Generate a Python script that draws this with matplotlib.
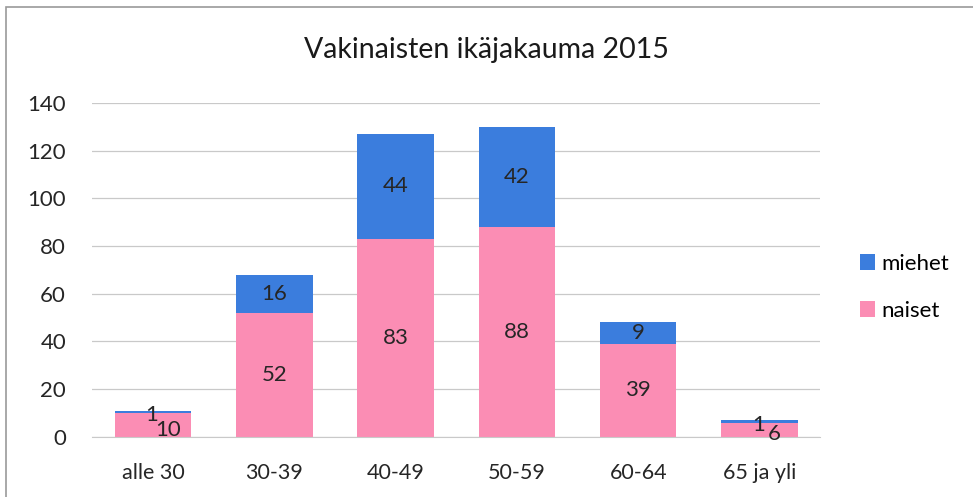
import matplotlib.pyplot as plt
import numpy as np

# data
categories = ["alle 30", "30-39", "40-49", "50-59", "60-64", "65 ja yli"]
naiset = [10, 52, 83, 88, 39, 6]
miehet = [1, 16, 44, 42, 9, 1]

blue = "#3b7ddd"
pink = "#fb8db4"
txt = "#262626"

plt.rcParams['font.family'] = ['Lato', 'DejaVu Sans']

fig = plt.figure(figsize=(9.73, 4.97), dpi=100)
ax = fig.add_axes([0.095, 0.121, 0.748, 0.672])

x = np.arange(len(categories))
w = 0.63
b1 = ax.bar(x, naiset, w, color=pink, label="naiset", zorder=2)
b2 = ax.bar(x, miehet, w, bottom=naiset, color=blue, label="miehet", zorder=2)

# value labels, centred in each segment (small ones nudged like the original)
for i in range(len(categories)):
    n, m = naiset[i], miehet[i]
    if n + m < 20:
        ax.text(x[i] - 0.01, n + m / 2 - 1.5, str(m), ha="center", va="center",
                fontsize=16, color=txt, zorder=3)
        ax.text(x[i] + 0.12, n / 2 - 2.0, str(n), ha="center", va="center",
                fontsize=16, color=txt, zorder=3)
    else:
        ax.text(x[i], n / 2, str(n), ha="center", va="center",
                fontsize=16, color=txt, zorder=3)
        ax.text(x[i], n + m / 2, str(m), ha="center", va="center",
                fontsize=16, color=txt, zorder=3)

ax.set_xlim(-0.5, len(categories) - 0.5)
ax.set_ylim(0, 140)
ax.set_yticks(np.arange(0, 141, 20))
ax.set_xticks(x)
ax.set_xticklabels(categories, fontsize=15.5, color=txt)
ax.tick_params(axis="y", labelsize=16, length=0, pad=19, labelcolor=txt)
ax.tick_params(axis="x", length=0, pad=19)
ax.yaxis.grid(True, color="#c9c9c9", lw=0.9, zorder=1)
for s in ["top", "right", "left"]:
    ax.spines[s].set_visible(False)
ax.spines["bottom"].set_color("#c9c9c9")

fig.text(0.5, 0.9, "Vakinaisten ikäjakauma 2015", ha="center", va="center",
         fontsize=20.5, color="#1a1a1a")

ax.legend(handles=[b2, b1], labels=["miehet", "naiset"], loc="center left",
          bbox_to_anchor=(1.054, 0.448), frameon=False, fontsize=16,
          handlelength=0.7, handleheight=0.7, handletextpad=0.3,
          labelspacing=1.2, borderpad=0, borderaxespad=0)

# outer chart border
fig.patches.append(plt.Rectangle((0.006, -0.01), 1.0, 0.995, transform=fig.transFigure,
                                 fill=False, edgecolor="#9a9a9a", lw=1.2))

fig.savefig("out.png", dpi=100)
